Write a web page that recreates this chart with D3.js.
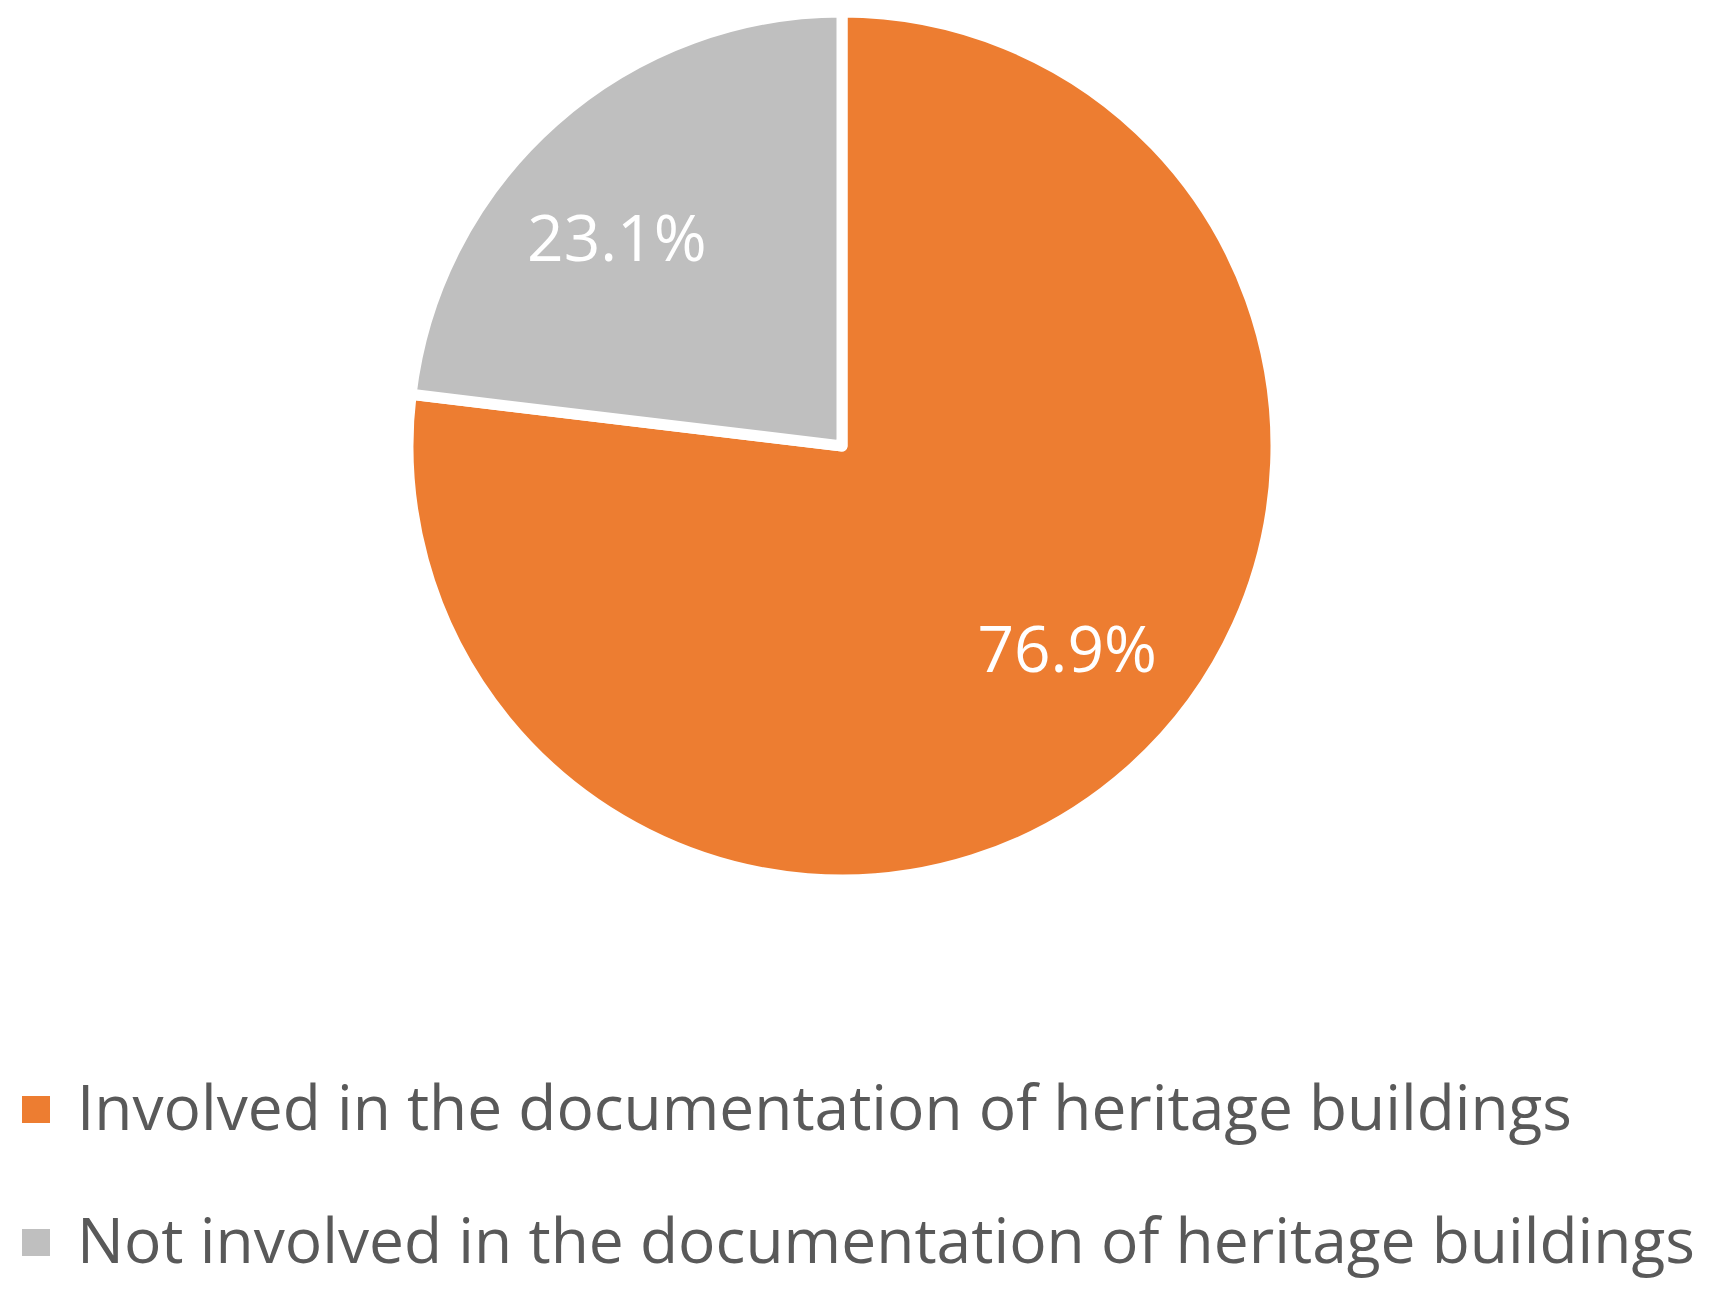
<!DOCTYPE html>
<html>
<head>
<meta charset="utf-8">
<script src="https://cdn.jsdelivr.net/npm/d3@7"></script>
<style>
  html, body { margin: 0; padding: 0; background: #ffffff; }
  svg { display: block; }
</style>
</head>
<body>
<svg id="chart"></svg>
<script>
const categories = [
    'Involved in the documentation of heritage buildings',
    'Not involved in the documentation of heritage buildings'
];
const values = [76.9, 23.1];
const colors = ['#ED7D31', '#BFBFBF'];

const WIDTH = 1719,
    HEIGHT = 1297;

const cx = 842,
    cy = 446,
    radius = 434;

const svg = d3.select('svg#chart')
    .attr('width', WIDTH)
    .attr('height', HEIGHT)
    .style('font-family', '"Open Sans", "Noto Sans", sans-serif');

const data = categories.map((name, i) => ({ name, value: values[i], color: colors[i] }));

const pie = d3.pie()
    .sort(null)
    .value(d => d.value);

const arc = d3.arc()
    .innerRadius(0)
    .outerRadius(radius);

// excel puts the labels a bit before the middle of the slice
const labelShift = -6 * Math.PI / 180;
const labelRadius = 305;

const g = svg.append('g')
    .attr('transform', `translate(${cx}, ${cy})`);

const slices = g.selectAll('.slice')
    .data(pie(data))
    .enter().append('g')
        .attr('class', 'slice');

slices.append('path')
    .attr('d', arc)
    .attr('fill', d => d.data.color)
    .attr('stroke', '#ffffff')
    .attr('stroke-width', 11)
    .attr('stroke-linejoin', 'round');

slices.append('text')
    .attr('x', d => labelRadius * Math.sin((d.startAngle + d.endAngle) / 2 + labelShift))
    .attr('y', d => -labelRadius * Math.cos((d.startAngle + d.endAngle) / 2 + labelShift))
    .attr('dy', '0.32em')
    .attr('text-anchor', 'middle')
    .attr('fill', '#ffffff')
    .attr('font-size', 64)
    .text(d => d3.format('.1f')(d.data.value) + '%');

// legend
const legendWidths = [1495, 1618];

const legend = svg.append('g')
    .attr('class', 'legend')
    .selectAll('.item')
    .data(data)
    .enter().append('g')
        .attr('class', 'item')
        .attr('transform', (d, i) => `translate(0, ${1130 + i * 133})`);

legend.append('rect')
    .attr('x', 22)
    .attr('y', -34)
    .attr('width', 28)
    .attr('height', 27)
    .attr('fill', d => d.color);

legend.append('text')
    .attr('x', 77)
    .attr('y', 0)
    .attr('fill', '#595959')
    .attr('font-size', 63)
    .attr('textLength', (d, i) => legendWidths[i])
    .attr('lengthAdjust', 'spacingAndGlyphs')
    .text(d => d.name);
</script>
</body>
</html>
